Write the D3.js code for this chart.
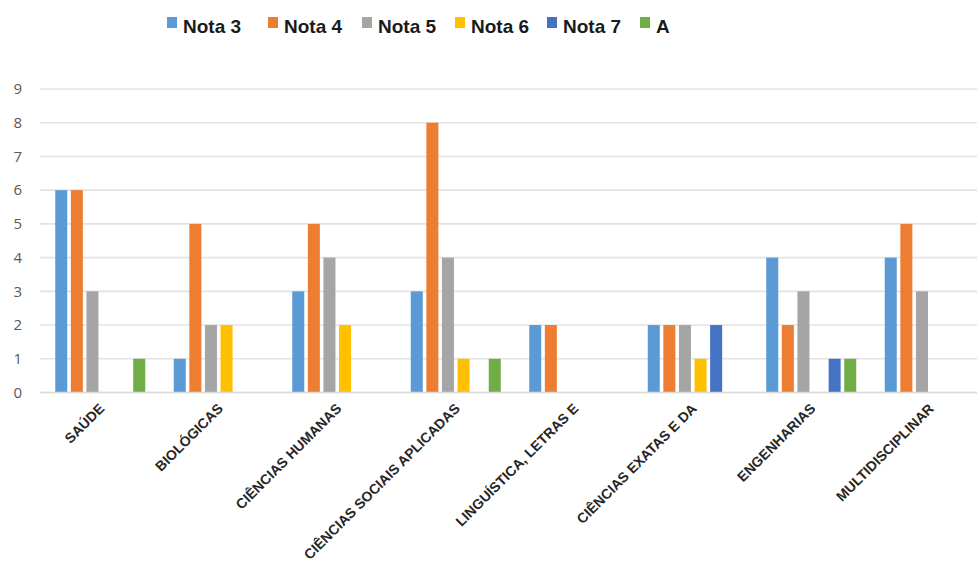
<!DOCTYPE html>
<html>
<head>
<meta charset="utf-8">
<script src="https://cdn.jsdelivr.net/npm/d3@7"></script>
<style>
  html, body { margin: 0; padding: 0; background: #fff; }
  svg { display: block; }
</style>
</head>
<body>
<svg id="chart" width="977" height="565"></svg>
<script>
const categories = ["SAÚDE", "BIOLÓGICAS", "CIÊNCIAS HUMANAS", "CIÊNCIAS SOCIAIS APLICADAS",
  "LINGUÍSTICA, LETRAS E", "CIÊNCIAS EXATAS E DA", "ENGENHARIAS", "MULTIDISCIPLINAR"];
const seriesNames = ["Nota 3", "Nota 4", "Nota 5", "Nota 6", "Nota 7", "A"];
const nota3 = [6, 1, 3, 3, 2, 2, 4, 4];
const nota4 = [6, 5, 5, 8, 2, 2, 2, 5];
const nota5 = [3, 2, 4, 4, 0, 2, 3, 3];
const nota6 = [0, 2, 2, 1, 0, 1, 0, 0];
const nota7 = [0, 0, 0, 0, 0, 2, 1, 0];
const notaA = [1, 0, 0, 1, 0, 0, 1, 0];
const yTicks = [0, 1, 2, 3, 4, 5, 6, 7, 8, 9];
const colors = ["#5B9BD5", "#ED7D31", "#A5A5A5", "#FFC000", "#4472C4", "#70AD47"];

const seriesValues = [nota3, nota4, nota5, nota6, nota7, notaA];
const svg = d3.select("#chart");

const x0 = d3.scaleBand().domain(categories).range([41, 989]).padding(0);
const groupW = 93.6;
const x1 = d3.scaleBand().domain(seriesNames)
  .range([x0.bandwidth() / 2 - groupW / 2, x0.bandwidth() / 2 + groupW / 2])
  .paddingInner(0.23).paddingOuter(0.115);
const y = d3.scaleLinear().domain([0, 9]).range([392.5, 89]);

// gridlines
svg.append("g").selectAll("line").data(yTicks).join("line")
  .attr("x1", 40).attr("x2", 977)
  .attr("y1", d => y(d)).attr("y2", d => y(d))
  .attr("stroke", "#e3e3e3").attr("stroke-width", 1.6);

// y axis labels
const yAxis = d3.axisLeft(y).tickValues(yTicks).tickSize(0).tickPadding(0);
const yg = svg.append("g").attr("transform", "translate(22,0)").call(yAxis);
yg.select(".domain").remove();
yg.selectAll("text").attr("font-family", "'Open Sans', 'Liberation Sans', sans-serif")
  .attr("font-size", 15).attr("fill", "#595959");

// bars
const groups = svg.append("g").selectAll("g").data(categories).join("g")
  .attr("transform", d => `translate(${x0(d)},0)`);
groups.selectAll("rect")
  .data((c, ci) => seriesNames.map((s, si) => ({ s, si, v: seriesValues[si][ci] })))
  .join("rect")
  .attr("x", d => x1(d.s))
  .attr("width", x1.bandwidth())
  .attr("y", d => y(d.v))
  .attr("height", d => y(0) - y(d.v))
  .attr("fill", d => colors[d.si]);

// baseline
svg.append("line").attr("x1", 40).attr("x2", 977).attr("y1", y(0)).attr("y2", y(0))
  .attr("stroke", "#d9d9d9").attr("stroke-width", 1.6);

// x axis labels
const xAxis = d3.axisBottom(x0).tickSize(0).tickPadding(0);
const xg = svg.append("g").attr("transform", `translate(0,${y(0)})`).call(xAxis);
xg.select(".domain").remove();
xg.selectAll("text")
  .attr("font-family", "'Liberation Sans', 'Open Sans', sans-serif")
  .attr("font-size", 14).attr("font-weight", "bold").attr("fill", "#262626")
  .attr("text-anchor", "end")
  .attr("dy", 0)
  .attr("transform", "translate(5,17) rotate(-45)");

// legend
const legendX = [167, 268, 362, 455, 547, 640];
const lg = svg.append("g").selectAll("g").data(seriesNames).join("g")
  .attr("transform", (d, i) => `translate(${legendX[i]},0)`);
lg.append("rect").attr("x", 0).attr("y", 17).attr("width", 10).attr("height", 11)
  .attr("fill", (d, i) => colors[i]);
lg.append("text").attr("x", 16).attr("y", 33).text(d => d)
  .attr("font-family", "'Liberation Sans', sans-serif").attr("font-weight", "bold")
  .attr("font-size", 19).attr("fill", "#1a1a1a");
</script>
</body>
</html>
